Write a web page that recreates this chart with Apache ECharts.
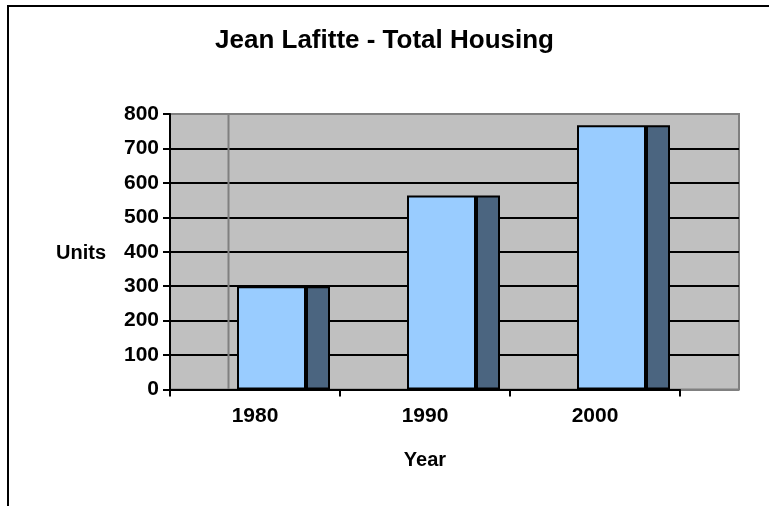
<!DOCTYPE html>
<html>
<head>
<meta charset="utf-8">
<script src="https://cdn.jsdelivr.net/npm/echarts@6/dist/echarts.min.js"></script>
<style>
  html, body { margin: 0; padding: 0; background: #fff; }
  #chart { width: 769px; height: 506px; }
</style>
</head>
<body>
<div id="chart"></div>
<script>
  // chart data
  const years = ['1980', '1990', '2000'];
  const units = [300, 563, 767];
  const yTicks = [0, 100, 200, 300, 400, 500, 600, 700, 800];

  const font = "'Liberation Sans', Arial, sans-serif";
  const chart = echarts.init(document.getElementById('chart'));

  const option = {
    backgroundColor: '#fff',
    animation: false,
    title: [
      {
        text: 'Jean Lafitte - Total Housing',
        left: 'center',
        top: 28,
        padding: 0,
        textStyle: { fontFamily: font, fontSize: 26, fontWeight: 'bold', color: '#000' }
      },
      {
        text: 'Units',
        left: 56,
        top: 243,
        padding: 0,
        textStyle: { fontFamily: font, fontSize: 20, fontWeight: 'bold', color: '#000' }
      }
    ],
    grid: [
      // bars / axes
      { left: 170, top: 114, width: 510, bottom: 116.5, show: false },
      // gray plot background, extends past last category
      { left: 170, top: 114, width: 569, bottom: 116.5, show: true,
        backgroundColor: '#C0C0C0', borderColor: '#808080', borderWidth: 2, z: 0 }
    ],
    xAxis: [
      {
        type: 'category',
        gridIndex: 0,
        data: years,
        name: 'Year',
        nameLocation: 'middle',
        nameGap: 61,
        nameTextStyle: { fontFamily: font, fontSize: 20, fontWeight: 'bold', color: '#000' },
        axisLine: { show: true, lineStyle: { color: '#000', width: 2 } },
        axisTick: { show: true, length: 7, lineStyle: { color: '#000', width: 2 } },
        axisLabel: { margin: 16, fontFamily: font, fontSize: 21, fontWeight: 'bold', color: '#000' },
        splitLine: { show: false }
      },
      {
        type: 'value',
        gridIndex: 1,
        min: 0,
        max: 1,
        show: false
      }
    ],
    yAxis: [
      {
        type: 'value',
        gridIndex: 0,
        min: yTicks[0],
        max: yTicks[yTicks.length - 1],
        interval: 100,
        axisLine: { show: true, lineStyle: { color: '#000', width: 2 } },
        axisTick: { show: true, length: 7, lineStyle: { color: '#000', width: 2 } },
        axisLabel: { margin: 11, fontFamily: font, fontSize: 21, fontWeight: 'bold', color: '#000' },
        splitLine: { show: false }
      },
      {
        type: 'value',
        gridIndex: 1,
        min: yTicks[0],
        max: yTicks[yTicks.length - 1],
        interval: 100,
        axisLine: { show: false },
        axisTick: { show: false },
        axisLabel: { show: false },
        splitLine: {
          show: true,
          lineStyle: {
            width: 2,
            color: yTicks.map((v, i) => (i === 0 || i === yTicks.length - 1) ? '#808080' : '#000')
          }
        }
      }
    ],
    series: [
      {
        // empty slot that pushes the pair of bars right of the band centre
        name: 'spacer',
        type: 'bar',
        xAxisIndex: 0,
        yAxisIndex: 0,
        data: units,
        barWidth: 57,
        barGap: '0%',
        silent: true,
        itemStyle: { opacity: 0 }
      },
      {
        name: 'Units',
        type: 'bar',
        xAxisIndex: 0,
        yAxisIndex: 0,
        data: units,
        barWidth: 69,
        barGap: '0%',
        itemStyle: { color: '#99CCFF', borderColor: '#000', borderWidth: 2 }
      },
      {
        name: 'Units side',
        type: 'bar',
        xAxisIndex: 0,
        yAxisIndex: 0,
        data: units,
        barWidth: 24,
        barGap: '0%',
        itemStyle: { color: '#4B6580', borderColor: '#000', borderWidth: 2 }
      }
    ],
    graphic: [
      {
        type: 'rect',
        shape: { x: 8, y: 6, width: 900, height: 700 },
        style: { fill: 'none', stroke: '#000', lineWidth: 2 },
        z: 100
      },
      {
        type: 'line',
        shape: { x1: 228.5, y1: 115, x2: 228.5, y2: 389 },
        style: { stroke: '#808080', lineWidth: 2 },
        z: 1
      }
    ]
  };

  chart.setOption(option);
</script>
</body>
</html>
